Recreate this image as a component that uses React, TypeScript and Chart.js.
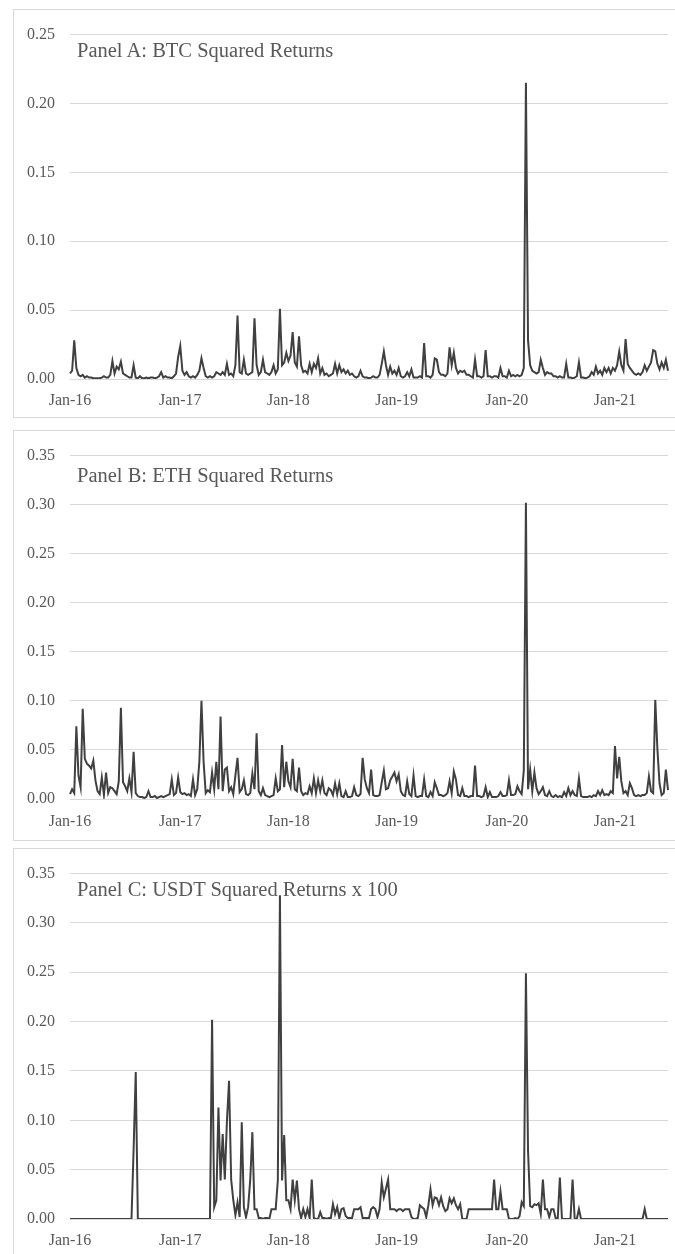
import React, { useEffect, useRef } from "react";
import { Chart, registerables } from "chart.js";

Chart.register(...registerables);

// x-axis tick labels and the sample index where each one sits
const xTickLabels = ["Jan-16", "Jan-17", "Jan-18", "Jan-19", "Jan-20", "Jan-21"];
const xTickIndex = [0, 52, 103, 154, 206, 257];

const panelTitles = [
  "Panel A: BTC Squared Returns",
  "Panel B: ETH Squared Returns",
  "Panel C: USDT Squared Returns x 100",
];
const yMaxes = [0.25, 0.35, 0.35];

// weekly-sampled squared returns, Jan-2016 .. mid-2021 (283 samples each)
const btcSq = [
  0.004, 0.006, 0.028, 0.008, 0.003, 0.002, 0.003, 0.001, 0.002, 0.001,
  0.001, 0.0005, 0.0005, 0.0005, 0.0005, 0.001, 0.002, 0.001, 0.001, 0.003,
  0.013, 0.004, 0.009, 0.007, 0.0125, 0.004, 0.003, 0.002, 0.001, 0.001,
  0.010, 0.001, 0.0005, 0.002, 0.0005, 0.0005, 0.001, 0.0005, 0.001, 0.001,
  0.0005, 0.001, 0.002, 0.005, 0.001, 0.002, 0.001, 0.001, 0.0005, 0.002,
  0.004, 0.016, 0.024, 0.006, 0.003, 0.005, 0.002, 0.001, 0.002, 0.001,
  0.003, 0.006, 0.015, 0.008, 0.002, 0.001, 0.002, 0.001, 0.002, 0.005,
  0.004, 0.003, 0.005, 0.003, 0.011, 0.003, 0.004, 0.002, 0.010, 0.046,
  0.005, 0.004, 0.014, 0.004, 0.003, 0.004, 0.005, 0.044, 0.010, 0.003,
  0.005, 0.014, 0.005, 0.004, 0.003, 0.005, 0.010, 0.004, 0.007, 0.051,
  0.010, 0.012, 0.019, 0.013, 0.017, 0.034, 0.012, 0.009, 0.031, 0.010,
  0.005, 0.006, 0.004, 0.011, 0.005, 0.011, 0.008, 0.015, 0.004, 0.008,
  0.003, 0.004, 0.002, 0.003, 0.004, 0.011, 0.004, 0.010, 0.005, 0.007,
  0.004, 0.006, 0.003, 0.004, 0.002, 0.001, 0.002, 0.006, 0.002, 0.001,
  0.001, 0.0005, 0.001, 0.002, 0.001, 0.001, 0.003, 0.011, 0.020, 0.010,
  0.003, 0.009, 0.004, 0.006, 0.003, 0.008, 0.002, 0.001, 0.002, 0.005,
  0.002, 0.007, 0.001, 0.001, 0.001, 0.002, 0.001, 0.026, 0.002, 0.002,
  0.001, 0.003, 0.015, 0.014, 0.005, 0.003, 0.003, 0.002, 0.004, 0.023,
  0.010, 0.019, 0.008, 0.004, 0.006, 0.005, 0.006, 0.003, 0.003, 0.002,
  0.001, 0.014, 0.002, 0.002, 0.001, 0.002, 0.021, 0.002, 0.002, 0.001,
  0.002, 0.002, 0.001, 0.008, 0.002, 0.002, 0.001, 0.006, 0.002, 0.003,
  0.002, 0.003, 0.002, 0.003, 0.008, 0.215, 0.028, 0.010, 0.006, 0.005,
  0.004, 0.005, 0.014, 0.008, 0.003, 0.005, 0.004, 0.004, 0.002, 0.002,
  0.001, 0.002, 0.001, 0.001, 0.011, 0.001, 0.001, 0.0005, 0.001, 0.002,
  0.012, 0.001, 0.001, 0.0005, 0.001, 0.002, 0.005, 0.003, 0.009, 0.004,
  0.006, 0.003, 0.008, 0.005, 0.008, 0.004, 0.008, 0.006, 0.010, 0.020,
  0.010, 0.006, 0.029, 0.011, 0.008, 0.006, 0.004, 0.003, 0.004, 0.003,
  0.005, 0.010, 0.006, 0.009, 0.012, 0.021, 0.020, 0.011, 0.007, 0.012,
  0.008, 0.014, 0.006,
];

const ethSq = [
  0.005, 0.010, 0.006, 0.074, 0.024, 0.012, 0.092, 0.041, 0.036, 0.034,
  0.031, 0.039, 0.019, 0.008, 0.005, 0.022, 0.004, 0.027, 0.006, 0.012,
  0.011, 0.008, 0.005, 0.018, 0.093, 0.017, 0.013, 0.008, 0.021, 0.007,
  0.048, 0.006, 0.003, 0.002, 0.002, 0.001, 0.002, 0.008, 0.002, 0.002,
  0.003, 0.001, 0.002, 0.003, 0.002, 0.003, 0.004, 0.005, 0.020, 0.004,
  0.006, 0.022, 0.007, 0.005, 0.006, 0.004, 0.005, 0.003, 0.020, 0.004,
  0.010, 0.038, 0.100, 0.038, 0.006, 0.009, 0.007, 0.027, 0.010, 0.038,
  0.010, 0.084, 0.008, 0.030, 0.032, 0.008, 0.012, 0.005, 0.024, 0.042,
  0.007, 0.010, 0.019, 0.005, 0.004, 0.006, 0.026, 0.010, 0.067, 0.008,
  0.004, 0.011, 0.004, 0.003, 0.002, 0.003, 0.004, 0.021, 0.008, 0.010,
  0.055, 0.012, 0.038, 0.018, 0.012, 0.041, 0.010, 0.008, 0.032, 0.008,
  0.004, 0.006, 0.005, 0.013, 0.006, 0.021, 0.006, 0.019, 0.008, 0.019,
  0.006, 0.004, 0.011, 0.009, 0.004, 0.016, 0.005, 0.016, 0.003, 0.002,
  0.008, 0.002, 0.002, 0.003, 0.012, 0.004, 0.003, 0.005, 0.042, 0.020,
  0.011, 0.006, 0.030, 0.004, 0.003, 0.003, 0.004, 0.017, 0.029, 0.010,
  0.011, 0.019, 0.023, 0.027, 0.018, 0.025, 0.008, 0.004, 0.003, 0.018,
  0.005, 0.003, 0.024, 0.003, 0.002, 0.003, 0.003, 0.020, 0.003, 0.002,
  0.007, 0.003, 0.017, 0.011, 0.004, 0.004, 0.003, 0.004, 0.006, 0.018,
  0.006, 0.028, 0.020, 0.004, 0.003, 0.011, 0.003, 0.003, 0.002, 0.003,
  0.003, 0.034, 0.003, 0.003, 0.002, 0.003, 0.012, 0.002, 0.007, 0.002,
  0.002, 0.002, 0.003, 0.007, 0.003, 0.003, 0.004, 0.019, 0.004, 0.004,
  0.005, 0.013, 0.008, 0.005, 0.029, 0.302, 0.010, 0.030, 0.008, 0.027,
  0.011, 0.005, 0.008, 0.012, 0.004, 0.003, 0.008, 0.003, 0.002, 0.004,
  0.002, 0.003, 0.002, 0.007, 0.003, 0.011, 0.004, 0.008, 0.004, 0.003,
  0.021, 0.003, 0.002, 0.002, 0.002, 0.003, 0.002, 0.004, 0.003, 0.008,
  0.004, 0.009, 0.004, 0.005, 0.004, 0.008, 0.006, 0.054, 0.021, 0.043,
  0.018, 0.006, 0.008, 0.004, 0.016, 0.011, 0.004, 0.003, 0.004, 0.003,
  0.004, 0.004, 0.006, 0.023, 0.008, 0.006, 0.101, 0.051, 0.016, 0.004,
  0.006, 0.030, 0.009,
];

const usdtSq100 = [
  0, 0, 0, 0, 0, 0, 0, 0, 0, 0,
  0, 0, 0, 0, 0, 0, 0, 0, 0, 0,
  0, 0, 0, 0, 0, 0, 0, 0, 0, 0,
  0.071, 0.149, 0, 0, 0, 0, 0, 0, 0, 0,
  0, 0, 0, 0, 0, 0, 0, 0, 0, 0,
  0, 0, 0, 0, 0, 0, 0, 0, 0, 0,
  0, 0, 0, 0, 0, 0, 0, 0.202, 0.012, 0.019,
  0.113, 0.039, 0.086, 0.040, 0.099, 0.140, 0.040, 0.019, 0.004, 0.017,
  0.002, 0.098, 0.012, 0.002, 0.012, 0.040, 0.088, 0.010, 0.010, 0.001,
  0.001, 0, 0.001, 0.001, 0, 0.010, 0.010, 0.010, 0.039, 0.328,
  0.039, 0.085, 0.019, 0.019, 0.010, 0.040, 0.019, 0.039, 0.010, 0.001,
  0.010, 0.002, 0.010, 0.001, 0.040, 0.001, 0, 0, 0.007, 0.001,
  0.001, 0, 0.001, 0.001, 0.015, 0.005, 0.012, 0.001, 0.010, 0.011,
  0.003, 0.001, 0.001, 0.001, 0.010, 0.010, 0.010, 0.012, 0.001, 0.001,
  0.001, 0.001, 0.010, 0.012, 0.010, 0.002, 0.010, 0.037, 0.022, 0.031,
  0.040, 0.010, 0.010, 0.010, 0.008, 0.010, 0.010, 0.008, 0.010, 0.010,
  0.010, 0.002, 0, 0, 0.001, 0.014, 0.012, 0.010, 0.002, 0.014,
  0.030, 0.014, 0.022, 0.021, 0.014, 0.022, 0.013, 0.008, 0.010, 0.021,
  0.016, 0.021, 0.014, 0.010, 0.015, 0, 0, 0, 0.010, 0.010,
  0.010, 0.010, 0.010, 0.010, 0.010, 0.010, 0.010, 0.010, 0.010, 0.010,
  0.040, 0.010, 0.010, 0.028, 0.010, 0.010, 0.010, 0, 0, 0,
  0.001, 0, 0.003, 0.017, 0.013, 0.249, 0.069, 0.013, 0.012, 0.015,
  0.014, 0.016, 0.005, 0.040, 0.010, 0.010, 0.002, 0.010, 0.010, 0.001,
  0, 0.042, 0, 0, 0, 0, 0, 0.040, 0, 0,
  0.010, 0, 0, 0, 0, 0, 0, 0, 0, 0,
  0, 0, 0, 0, 0, 0, 0, 0, 0, 0,
  0, 0, 0, 0, 0, 0, 0, 0, 0, 0,
  0, 0.010, 0, 0, 0, 0, 0, 0, 0, 0,
  0, 0, 0,
];

const FONT = "'Liberation Serif', 'Times New Roman', Times, serif";
const TEXT = "#595959";
const GRID = "#d9d9d9";
const LINE = "#404040";

type PanelProps = {
  title: string;
  data: number[];
  yMax: number;
  top: number;
  boxH: number;
  padTop: number;
  xAxisH: number;
  tickPad: number;
  titleTop: number;
};

function Panel({ title, data, yMax, top, boxH, padTop, xAxisH, tickPad, titleTop }: PanelProps) {
  const ref = useRef<HTMLCanvasElement | null>(null);
  const canvasW = 668;
  const canvasH = boxH - 2;

  useEffect(() => {
    if (!ref.current) return;
    const labels = data.map((_, i) => {
      const k = xTickIndex.indexOf(i);
      return k >= 0 ? xTickLabels[k] : "";
    });
    const chart = new Chart(ref.current, {
      type: "line",
      data: {
        labels,
        datasets: [
          {
            data,
            borderColor: LINE,
            borderWidth: 2,
            pointRadius: 0,
            fill: false,
            tension: 0,
          },
        ],
      },
      options: {
        responsive: false,
        animation: false,
        devicePixelRatio: 1,
        layout: { padding: { top: padTop, right: 14, left: 0, bottom: 0 } },
        plugins: { legend: { display: false }, tooltip: { enabled: false }, title: { display: false } },
        scales: {
          x: {
            type: "category",
            grid: { display: false, drawTicks: false },
            border: { display: false },
            ticks: {
              autoSkip: false,
              maxRotation: 0,
              minRotation: 0,
              padding: tickPad,
              color: TEXT,
              font: { family: FONT, size: 16 },
            },
            afterFit: (s: any) => {
              s.height = xAxisH;
            },
          },
          y: {
            min: 0,
            max: yMax,
            grid: { color: GRID, lineWidth: 1, drawTicks: false },
            border: { display: false },
            ticks: {
              stepSize: 0.05,
              padding: 15,
              color: TEXT,
              font: { family: FONT, size: 16 },
              callback: (v: any) => Number(v).toFixed(2),
            },
            afterFit: (s: any) => {
              s.width = 56;
            },
          },
        },
      },
    });
    return () => chart.destroy();
  }, [data, yMax, padTop, xAxisH, tickPad]);

  return (
    <>
      <div
        style={{
          position: "absolute",
          left: 13,
          top,
          width: 670,
          height: boxH,
          boxSizing: "border-box",
          border: `1px solid ${GRID}`,
          background: "#fff",
        }}
      >
        <canvas
          ref={ref}
          width={canvasW}
          height={canvasH}
          style={{ position: "absolute", left: 0, top: 0, width: canvasW, height: canvasH }}
        />
      </div>
      <div
        style={{
          position: "absolute",
          left: 77,
          top: titleTop,
          fontFamily: FONT,
          fontSize: 20.5,
          lineHeight: 1,
          color: TEXT,
          whiteSpace: "nowrap",
          pointerEvents: "none",
        }}
      >
        {title}
      </div>
    </>
  );
}

export default function App() {
  return (
    <div
      style={{
        position: "absolute",
        left: 0,
        top: 0,
        width: 675,
        height: 1254,
        overflow: "hidden",
        background: "#fff",
      }}
    >
      <Panel title={panelTitles[0]} data={btcSq} yMax={yMaxes[0]} top={9} boxH={409} padTop={19} xAxisH={38} tickPad={12} titleTop={40} />
      <Panel title={panelTitles[1]} data={ethSq} yMax={yMaxes[1]} top={430} boxH={411} padTop={21} xAxisH={41} tickPad={13} titleTop={465} />
      <Panel title={panelTitles[2]} data={usdtSq100} yMax={yMaxes[2]} top={848} boxH={420} padTop={20} xAxisH={48} tickPad={12} titleTop={879} />
    </div>
  );
}
